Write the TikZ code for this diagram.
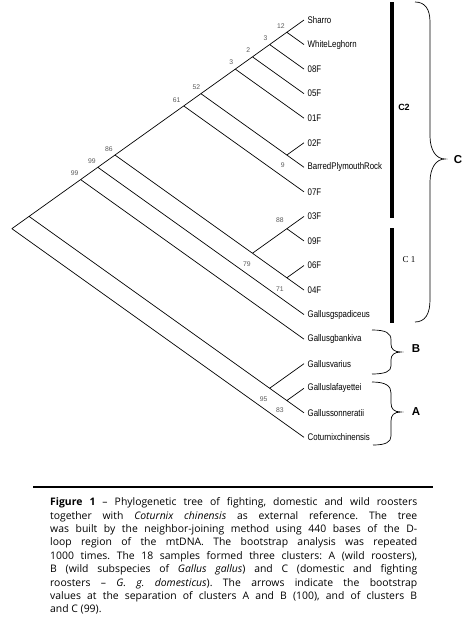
\documentclass[tikz,border=0pt]{standalone}
\usepackage{fontspec}
\setmainfont{Open Sans}
\newfontfamily\leaffont[FakeStretch=0.82]{Liberation Sans}
\newfontfamily\labfont{Liberation Sans}
\newfontfamily\serfont{Liberation Serif}
\usetikzlibrary{positioning, calc}

% internal node of the cladogram, placed from its top and bottom leaf
\newcommand{\clade}[3]{%
  \path let \p1=(#2.west), \p2=(#3.west) in
    ({\x1-0.7*(\y1-\y2)}, {0.5*(\y1+\y2)}) coordinate (#1);}

\begin{document}
\begin{tikzpicture}[
        x=1pt, y=-1pt,
        branch/.style={
            draw=black,
            line width=0.7pt
        },
        leaf/.style={
            anchor=west,
            inner sep=3.5pt,
            font=\leaffont\fontsize{9.6}{10}\selectfont
        },
        boot/.style={
            inner sep=0pt,
            text=black!65,
            font=\labfont\fontsize{6.8}{7}\selectfont
        },
        clusterbar/.style={line width=3.2pt},
        curly/.style={line width=0.7pt},
        cluster/.style={font=\labfont\bfseries\fontsize{11.5}{12}\selectfont}
    ]
    \useasboundingbox (0,0) rectangle (470,622);

    % Leaves
    \node[leaf] (sharro) at (304,20.0) {Sharro};
    \node[leaf] (wleghorn) at (304,44.55) {WhiteLeghorn};
    \node[leaf] (f08) at (304,69.1) {08F};
    \node[leaf] (f05) at (304,93.65) {05F};
    \node[leaf] (f01) at (304,118.2) {01F};
    \node[leaf] (f02) at (304,142.75) {02F};
    \node[leaf] (plymouth) at (304,167.3) {BarredPlymouthRock};
    \node[leaf] (f07) at (304,191.85) {07F};
    \node[leaf] (f03) at (304,216.4) {03F};
    \node[leaf] (f09) at (304,240.95) {09F};
    \node[leaf] (f06) at (304,265.5) {06F};
    \node[leaf] (f04) at (304,290.05) {04F};
    \node[leaf] (spadiceus) at (304,314.6) {Gallusgspadiceus};
    \node[leaf] (bankiva) at (304,339.15) {Gallusgbankiva};
    \node[leaf] (varius) at (304,363.7) {Gallusvarius};
    \node[leaf] (lafayettei) at (304,388.25) {Galluslafayettei};
    \node[leaf] (sonneratii) at (304,412.8) {Gallussonneratii};
    \node[leaf] (coturnix) at (304,437.35) {Coturnixchinensis};

    % Internal nodes
    \clade{n12}{sharro}{wleghorn}
    \clade{n3a}{sharro}{f08}
    \clade{n2}{sharro}{f05}
    \clade{n3b}{sharro}{f01}
    \clade{n9}{f02}{plymouth}
    \clade{n52}{sharro}{plymouth}
    \clade{n61}{sharro}{f07}
    \clade{n88}{f03}{f09}
    \clade{n71}{f06}{f04}
    \clade{nC1}{f03}{f04}
    \clade{n86}{sharro}{f04}
    \clade{n99a}{sharro}{spadiceus}
    \clade{n99b}{sharro}{bankiva}
    \clade{nLS}{lafayettei}{sonneratii}
    \clade{nAB}{varius}{sonneratii}
    \clade{nIn}{sharro}{sonneratii}
    \clade{root}{sharro}{coturnix}

    % Branches
    \draw[branch] (root) -- (nIn) (root) -- (coturnix.west);
    \draw[branch] (nIn) -- (n99b) (nIn) -- (nAB);
    \draw[branch] (nAB) -- (varius.west) (nAB) -- (nLS);
    \draw[branch] (nLS) -- (lafayettei.west) (nLS) -- (sonneratii.west);
    \draw[branch] (n99b) -- (n99a) (n99b) -- (bankiva.west);
    \draw[branch] (n99a) -- (n86) (n99a) -- (spadiceus.west);
    \draw[branch] (n86) -- (n61) (n86) -- (nC1);
    \draw[branch] (nC1) -- (n88) (nC1) -- (n71);
    \draw[branch] (n88) -- (f03.west) (n88) -- (f09.west);
    \draw[branch] (n71) -- (f06.west) (n71) -- (f04.west);
    \draw[branch] (n61) -- (n52) (n61) -- (f07.west);
    \draw[branch] (n52) -- (n3b) (n52) -- (n9);
    \draw[branch] (n9) -- (f02.west) (n9) -- (plymouth.west);
    \draw[branch] (n3b) -- (n2) (n3b) -- (f01.west);
    \draw[branch] (n2) -- (n3a) (n2) -- (f05.west);
    \draw[branch] (n3a) -- (n12) (n3a) -- (f08.west);
    \draw[branch] (n12) -- (sharro.west) (n12) -- (wleghorn.west);

    % Bootstrap values
    \node[boot, above left=4pt and 2pt of n12] (b12) {12};
    \node[boot, above left=4pt and 2pt of n3a] (b3a) {3};
    \node[boot, above left=4pt and 2pt of n2] (b2) {2};
    \node[boot, above left=4pt and 2pt of n3b] (b3b) {3};
    \node[boot, above left=4pt and 0.5pt of n52] (b52) {52};
    \node[boot, above left=3.5pt and 3pt of n61] (b61) {61};
    \node[boot, above left=3.5pt and 2pt of n86] (b86) {86};
    \node[boot, above left=4pt and 2pt of n99a] (b99a) {99};
    \node[boot, above left=4pt and 2pt of n99b] (b99b) {99};
    \node[boot, above left=5.5pt and 3pt of n88] (b88) {88};
    \node[boot, below left=7.5pt and 2pt of n9] (b9) {9};
    \node[boot, below left=8pt and 1.5pt of nC1] (b79) {79};
    \node[boot, below left=8.5pt and 3pt of n71] (b71) {71};
    \node[boot, below left=8.5pt and 2pt of nAB] (b95) {95};
    \node[boot, below left=7pt and 3pt of nLS] (b83) {83};

    % Cluster bars and braces
    \draw[clusterbar] (392,2) -- (392,218);
    \draw[clusterbar] (392,228) -- (392,323);
    \node[font=\labfont\bfseries\fontsize{9}{10}\selectfont] (labC2) at (404,107) {C2};
    \node[font=\serfont\fontsize{9}{10}\selectfont] (labC1) at (409,260) {C 1};

    \draw[curly] (415,2) .. controls (425,2) and (430,9) .. (430,22) -- (430,136)
        .. controls (430,150) and (436,159) .. (445,159)
        .. controls (436,159) and (430,168) .. (430,182) -- (430,300)
        .. controls (430,314) and (425,322) .. (415,322);
    \draw[curly] (372,330) .. controls (386,330) and (391,333) .. (391,340) -- (391,344)
        .. controls (391,349) and (394,352) .. (401,352)
        .. controls (394,352) and (391,355) .. (391,360) -- (391,366)
        .. controls (391,371) and (386,374) .. (372,374);
    \draw[curly] (372,382) .. controls (386,382) and (391,386) .. (391,393) -- (391,403)
        .. controls (391,409) and (394,412) .. (401,412)
        .. controls (394,412) and (391,415) .. (391,421) -- (391,436)
        .. controls (391,442) and (386,445) .. (373,445);
    \node[cluster] (clusterC) at (458,160) {C};
    \node[cluster] (clusterB) at (416,349) {B};
    \node[cluster] (clusterA) at (416,412) {A};

    % Caption
    \draw[line width=2pt] (33,486.5) -- (433,486.5);
    \node[anchor=north west, inner sep=0pt, text width=367pt, align=justify,
          font=\fontsize{10.4}{13.4}\selectfont\frenchspacing] (caption) at (50,497.5)
        {\textbf{Figure 1} -- Phylogenetic tree of fighting, domestic and wild roosters\linebreak
         together with \textit{Coturnix chinensis} as external reference. The tree\linebreak
         was built by the neighbor-joining method using 440 bases of the D-\linebreak
         loop region of the mtDNA. The bootstrap analysis was repeated\linebreak
         1000 times. The 18 samples formed three clusters: A (wild roosters),\linebreak
         B (wild subspecies of \textit{Gallus gallus}) and C (domestic and fighting\linebreak
         roosters -- \textit{G. g. domesticus}). The arrows indicate the bootstrap\linebreak
         values at the separation of clusters A and B (100), and of clusters B\linebreak
         and C (99).};
\end{tikzpicture}
\end{document}
